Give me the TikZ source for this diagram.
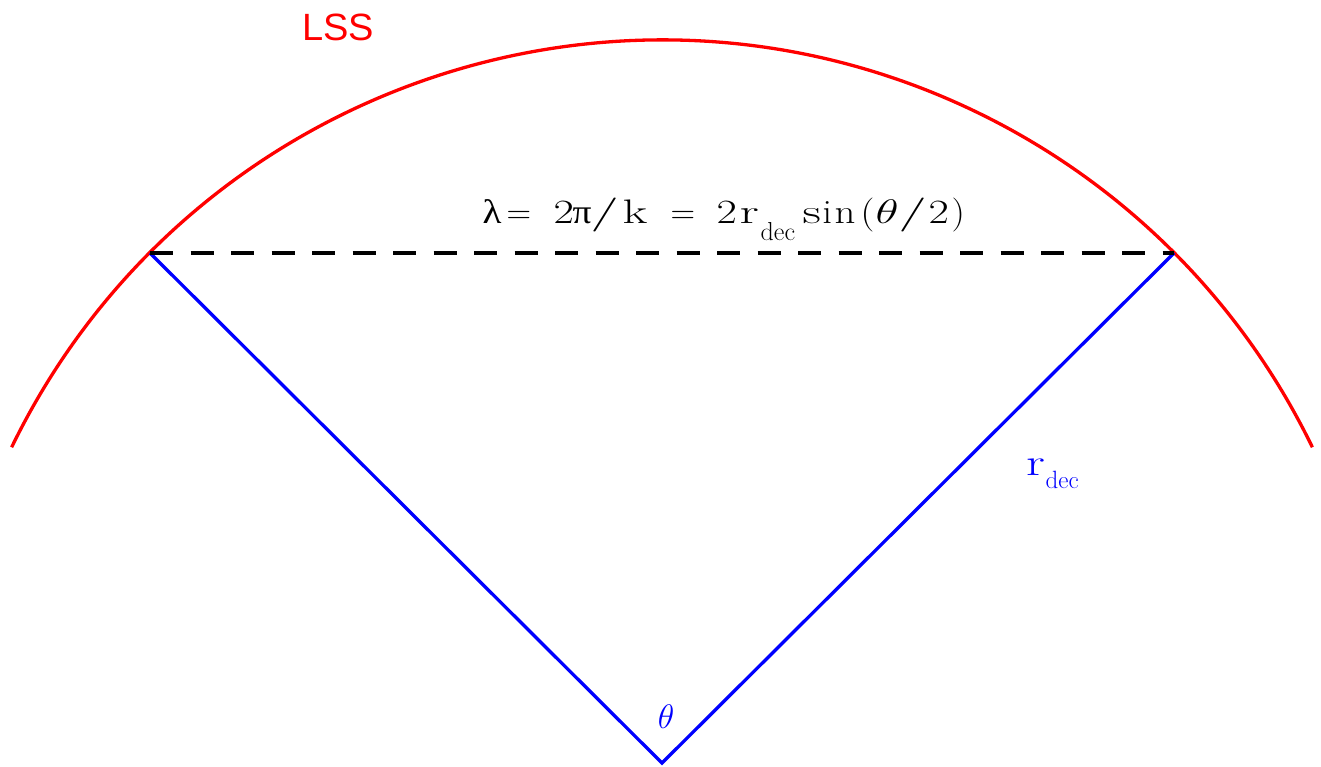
\documentclass[tikz,border=0pt]{standalone}
\usepackage{fix-cm}
\usepackage{fontspec}
\usepackage{graphicx}
\newfontfamily\grk{Liberation Serif}
\newfontfamily\lssfont{Liberation Sans}
% place a (widened) glyph at a given offset (pt) from the start of the line
\newcommand\gl[3][1.25]{\rlap{\hspace{#2pt}\scalebox{#1}[1]{#3}}}
\newcommand\subtxt[2]{\raisebox{-#1pt}{\fontsize{#2}{#2}\selectfont dec}}
\begin{document}
\begin{tikzpicture}[x=1pt,y=-1pt,
  lssline/.style={red, line width=3.3pt},
  radline/.style={blue, line width=3.3pt},
  chord/.style={black, line width=4pt, dash pattern=on 23pt off 17.5pt},
  lbl/.style={inner sep=0pt, anchor=center}]
\useasboundingbox (0,0) rectangle (1321,766);
\coordinate (A) at (662,763);
\coordinate (L) at (150,253);
\coordinate (R) at (1174,253);
% LSS arc, centred at the apex
\draw[lssline] (A) ++(-154.1:723) arc[start angle=-154.1, end angle=-25.9, radius=723];
% radii
\draw[radline, line join=miter] (L) -- (A) -- (R);
% chord
\draw[chord] (L) -- (R);
% labels
\node[lbl, text=red, font=\lssfont\fontsize{38}{40}\selectfont] (lss) at (338,27) {LSS};
\node[inner sep=0pt, anchor=base west, font=\fontsize{34}{40}\selectfont] (eq) at (482,223)
  {\gl[1.15]{0}{\grk λ}\gl[1.0]{24}{=}\gl[1.3]{71}{2}\gl[1.1]{90}{\grk π}\gl[1.8]{108}{/}\gl[1.5]{140}{k}\gl[1.0]{188}{=}%
   \gl[1.3]{234}{2}\gl[1.6]{257}{r}\gl[1]{278}{\subtxt{17}{26}}\gl[1.5]{320}{s}\gl[1.1]{340}{i}\gl[1.2]{352}{n}%
   \gl[1.15]{378}{(}\gl[1.4]{393}{$\theta$}\gl[1.8]{416}{/}\gl[1.3]{446}{2}\gl[1.1]{469}{)}\hspace{484pt}};
\node[lbl, text=blue, font=\fontsize{34}{40}\selectfont] (th) at (666,717) {$\theta$};
\node[inner sep=0pt, anchor=base west, text=blue, font=\fontsize{38}{40}\selectfont] (rd) at (1026,475)
  {\gl[1.4]{0}{r}\gl[1]{19}{\subtxt{13}{25}}\hspace{57pt}};
\end{tikzpicture}
\end{document}
